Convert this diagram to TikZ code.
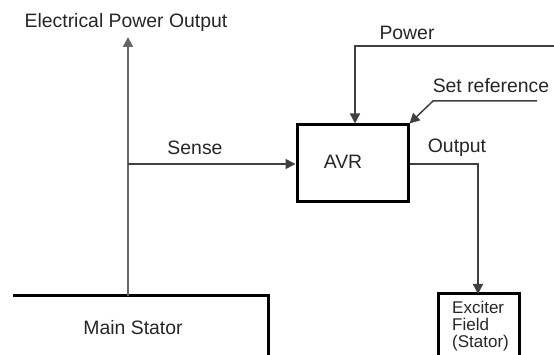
\documentclass[tikz,border=0pt]{standalone}
\usepackage{fontspec}
\setmainfont{Liberation Sans}
\usetikzlibrary{arrows.meta}
\begin{document}
\begin{tikzpicture}[x=1pt,y=-1pt,
  lbl/.style={inner sep=0pt,text=black!85,font=\fontsize{19.4}{21}\selectfont},
  small/.style={inner sep=0pt,text=black!85,align=left,font=\fontsize{17}{17}\selectfont},
  conn/.style={line width=1.5pt,draw=black!75},
  tip/.style={-{Triangle[length=10pt,width=10pt]}},
  boxline/.style={line width=3pt,draw=black}]
\useasboundingbox (0,0) rectangle (554,355);
% boxes
\node[boxline,minimum width=111pt,minimum height=77pt,inner sep=0pt] (avr) at (352.5,163.5) {};
\node[lbl] (avrt) at (343,162) {AVR};
\draw[boxline] (13,296) -- (268,296) -- (268,356);
\coordinate (ms) at (128,296);
\node[lbl] (mst) at (133,328) {Main Stator};
\draw[boxline] (438,356) |- (519,294) -- (519,356);
\coordinate (ex) at (478,294);
\node[small,anchor=north west] (ext) at (452,301) {Exciter\\Field\\(Stator)};
% texts
\node[lbl] (epo) at (126,22) {Electrical Power Output};
\node[lbl] (sense) at (195,148) {Sense};
\node[lbl] (power) at (407,33) {Power};
\node[lbl] (setref) at (491,86) {Set reference};
\node[lbl] (outp) at (457,148) {Output};
% connectors
\coordinate (top) at (128,37);
\draw[line width=2pt,draw=black!60,tip] (ms) -- (top);
\coordinate (sj) at (128,164);
\draw[conn,tip] (sj) -- (avr.west |- sj);
\coordinate (pw) at (556,46);
\draw[conn,tip] (pw) -| (avr.north -| 355,0);
\coordinate (sr1) at (537,101);
\coordinate (sr2) at (433,101);
\draw[conn,tip] (sr1) -- (sr2) -- (avr.north east);
\coordinate (oj) at (478,164);
\draw[conn,tip] (avr.east |- oj) -| (ex);
\end{tikzpicture}
\end{document}
